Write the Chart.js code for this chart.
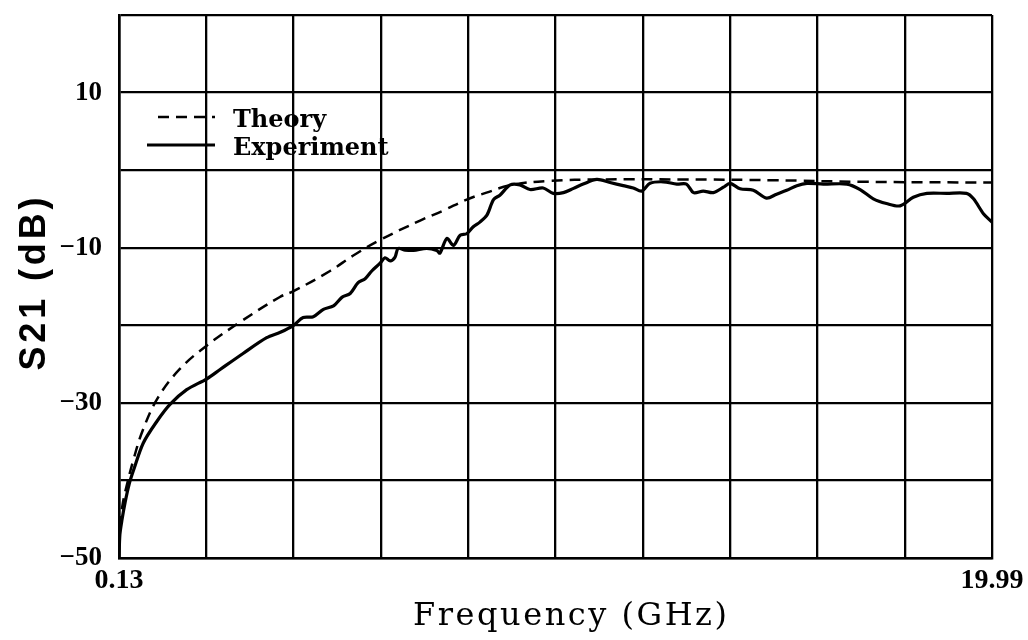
<!DOCTYPE html>
<html>
<head>
<meta charset="utf-8">
<title>S21 vs Frequency</title>
<script src="https://cdn.jsdelivr.net/npm/chart.js@4.4.1/dist/chart.umd.min.js"></script>
<style>
  html, body { margin: 0; padding: 0; background: #fff; }
  #wrap { width: 1028px; height: 640px; }
</style>
</head>
<body>
<div id="wrap"><canvas id="chart" width="1028" height="640"></canvas></div>
<script>
// ── Data ────────────────────────────────────────────────────────────────────
const F_MIN = 0.13;
const F_MAX = 19.99;

const theoryFreq = [0.14, 0.2, 0.27, 0.46, 0.68, 1.02, 1.52, 2.13, 2.88, 3.79, 4.10, 4.93,
  5.46, 6.07, 6.98, 7.51, 8.04, 8.49, 9.07, 9.88, 11.11, 13.0, 15.0, 17.0, 19.99];
const theoryS21 = [-46, -43.5, -41.5, -37.3, -33.4, -29.3, -25.6, -22.6, -19.6, -16.35, -15.6, -13.0,
  -11.0, -9.0, -6.5, -5.2, -3.8, -2.9, -1.9, -1.4, -1.2, -1.2, -1.3, -1.5, -1.6];

const expFreq = [0.13, 0.15, 0.2, 0.27, 0.36, 0.46, 0.68, 0.99, 1.29, 1.67, 2.13, 2.43, 2.96, 3.49,
  3.80, 4.10, 4.32, 4.55, 4.78, 5.01, 5.20, 5.39, 5.57, 5.73, 5.88, 6.07, 6.18, 6.30, 6.41, 6.48,
  6.64, 6.83, 7.13, 7.36, 7.43, 7.59, 7.74, 7.89, 8.04, 8.19, 8.34, 8.50, 8.65, 8.80, 9.03, 9.25,
  9.48, 9.78, 10.01, 10.24, 10.47, 10.69, 11.00, 11.30, 11.60, 11.83, 12.02, 12.21, 12.51, 12.82,
  13.04, 13.20, 13.42, 13.65, 13.88, 14.03, 14.26, 14.56, 14.86, 15.09, 15.32, 15.55, 15.78, 16.15,
  16.69, 16.99, 17.29, 17.59, 17.90, 18.20, 18.51, 18.96, 19.41, 19.57, 19.80, 19.99];
const expS21 = [-50, -47, -45, -42.8, -40.5, -38.7, -35.2, -32.4, -30.2, -28.3, -26.9, -25.7, -23.6, -21.6,
  -20.9, -20.0, -19.0, -18.9, -17.95, -17.5, -16.4, -15.9, -14.5, -14.0, -13.0, -12.0, -11.3, -11.7, -11.2, -10.1,
  -10.3, -10.35, -10.1, -10.35, -10.7, -8.8, -9.7, -8.4, -8.2, -7.3, -6.7, -5.8, -3.8, -3.2, -1.9, -1.9,
  -2.5, -2.3, -3.0, -2.9, -2.35, -1.8, -1.2, -1.6, -2.0, -2.3, -2.7, -1.7, -1.5, -1.8,
  -1.8, -2.9, -2.7, -2.9, -2.2, -1.7, -2.4, -2.6, -3.6, -3.1, -2.6, -2.0, -1.7, -1.8,
  -1.8, -2.5, -3.7, -4.3, -4.6, -3.5, -3.0, -3.0, -3.0, -3.7, -5.65, -6.7];

const yLabelValues = [10, -10, -30, -50];
const xDivisions = 10;

const seriesNames = ['Theory', 'Experiment'];

// ── Helpers ────────────────────────────────────────────────────────────────
const toPoints = (xs, ys) => xs.map((x, i) => ({ x: x, y: ys[i] }));
const fmtNum = v => (v < 0 ? '\u2212' + Math.abs(v) : String(v));

// Draws text stretched to a target width by letter spacing
function fitText(ctx, text, x, y, targetW) {
  ctx.letterSpacing = '0px';
  const w = ctx.measureText(text).width;
  const sp = Math.max(0, (targetW - w) / (text.length - 1));
  ctx.letterSpacing = sp + 'px';
  ctx.fillText(text, x + (ctx.textAlign === 'center' ? sp / 2 : 0), y);
  ctx.letterSpacing = '0px';
}

// No extra label room at the scale ends, plot box stays where it is
function noEndPadding(scale) {
  scale.paddingTop = 0;
  scale.paddingBottom = 0;
  scale.paddingLeft = 0;
  scale.paddingRight = 0;
}

// ── Custom drawing: axis titles + in-plot legend ─────────────────────────
const decorPlugin = {
  id: 'decor',
  afterDraw(chart) {
    const { ctx, chartArea: a } = chart;
    ctx.save();
    ctx.fillStyle = '#000';
    ctx.strokeStyle = '#000';

    // x title
    ctx.font = '32px "DejaVu Serif"';
    ctx.textAlign = 'center';
    ctx.textBaseline = 'alphabetic';
    fitText(ctx, 'Frequency (GHz)', 570, 625, 314);

    // y title
    ctx.save();
    ctx.translate(45, 284);
    ctx.rotate(-Math.PI / 2);
    ctx.font = 'bold 36px "Liberation Sans"';
    fitText(ctx, 'S21 (dB)', 0, 0, 173);
    ctx.restore();

    // legend
    ctx.lineWidth = 2.5;
    ctx.setLineDash([11, 7]);
    ctx.beginPath();
    ctx.moveTo(a.left + 39, a.top + 102);
    ctx.lineTo(a.left + 96, a.top + 102);
    ctx.stroke();
    ctx.setLineDash([]);
    ctx.lineWidth = 3;
    ctx.beginPath();
    ctx.moveTo(a.left + 28, a.top + 130);
    ctx.lineTo(a.left + 96, a.top + 130);
    ctx.stroke();

    ctx.font = 'bold 24px "DejaVu Serif"';
    ctx.textAlign = 'left';
    ctx.fillText(seriesNames[0], a.left + 114, a.top + 112);
    ctx.fillText(seriesNames[1], a.left + 114, a.top + 140);
    ctx.restore();
  }
};

// ── Chart ──────────────────────────────────────────────────────────────────
new Chart(document.getElementById('chart'), {
  type: 'line',
  data: {
    datasets: [
      {
        label: seriesNames[0],
        data: toPoints(theoryFreq, theoryS21),
        borderColor: '#000',
        borderWidth: 2.5,
        borderDash: [11, 7],
        pointRadius: 0,
        tension: 0.4,
        fill: false
      },
      {
        label: seriesNames[1],
        data: toPoints(expFreq, expS21),
        borderColor: '#000',
        borderWidth: 3.2,
        pointRadius: 0,
        tension: 0.3,
        fill: false
      }
    ]
  },
  options: {
    responsive: false,
    animation: false,
    layout: { padding: { left: 0, right: 36, top: 15, bottom: 0 } },
    plugins: {
      legend: { display: false },
      tooltip: { enabled: false },
      title: { display: false }
    },
    scales: {
      x: {
        type: 'linear',
        min: F_MIN,
        max: F_MAX,
        afterBuildTicks: scale => {
          const step = (F_MAX - F_MIN) / xDivisions;
          scale.ticks = Array.from({ length: xDivisions + 1 }, (_, i) => ({ value: F_MIN + i * step }));
        },
        afterFit: scale => { scale.height = 82; noEndPadding(scale); },
        grid: { color: '#000', lineWidth: 2.3, drawTicks: false },
        border: { color: '#000', width: 2.6 },
        ticks: {
          autoSkip: false,
          maxRotation: 0,
          padding: 6,
          color: '#000',
          font: { family: 'Liberation Serif', size: 28, weight: 'bold' },
          callback: (v, i, arr) => (i === 0 ? F_MIN.toFixed(2) : i === arr.length - 1 ? F_MAX.toFixed(2) : '')
        }
      },
      y: {
        min: -50,
        max: 20,
        afterFit: scale => { scale.width = 119; noEndPadding(scale); },
        grid: { color: '#000', lineWidth: 2.3, drawTicks: false },
        border: { color: '#000', width: 2.6 },
        ticks: {
          stepSize: 10,
          padding: 17,
          color: '#000',
          font: { family: 'Liberation Serif', size: 27, weight: 'bold' },
          callback: v => (yLabelValues.includes(v) ? fmtNum(v) : '')
        }
      }
    }
  },
  plugins: [decorPlugin]
});
</script>
</body>
</html>
